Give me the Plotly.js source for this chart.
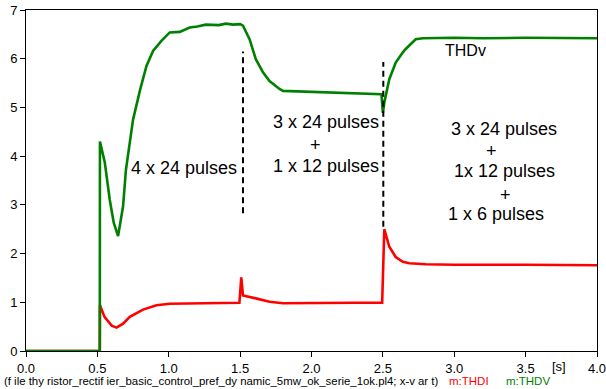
<!DOCTYPE html>
<html>
<head>
<meta charset="utf-8">
<script src="https://cdn.plot.ly/plotly-3.0.1.min.js"></script>
<style>html,body{margin:0;padding:0;background:#fff;}#chart{width:606px;height:389px;}</style>
</head>
<body>
<div id="chart"></div>
<script>
// THDV (green) series
const tV = [0, 0.517, 0.518, 0.552, 0.587, 0.615, 0.645, 0.68, 0.70, 0.75, 0.80, 0.844, 0.89, 0.95, 1.007, 1.077, 1.147, 1.20, 1.26, 1.35, 1.40, 1.45, 1.50, 1.52, 1.566, 1.61, 1.66, 1.706, 1.776, 1.80, 1.90, 2.0, 2.1, 2.24, 2.35, 2.49, 2.50, 2.51, 2.545, 2.59, 2.64, 2.66, 2.73, 2.78, 3.0, 3.2, 3.5, 3.8, 4.0];
const thdv = [0, 0, 4.30, 3.87, 3.10, 2.63, 2.36, 2.97, 3.72, 4.75, 5.37, 5.85, 6.16, 6.37, 6.54, 6.55, 6.64, 6.66, 6.70, 6.69, 6.72, 6.70, 6.71, 6.68, 6.40, 5.99, 5.72, 5.54, 5.38, 5.34, 5.33, 5.32, 5.30, 5.29, 5.28, 5.27, 4.89, 5.10, 5.58, 5.92, 6.13, 6.20, 6.40, 6.42, 6.43, 6.42, 6.43, 6.42, 6.42];

// THDI (red) series
const tI = [0, 0.517, 0.518, 0.55, 0.60, 0.634, 0.68, 0.727, 0.82, 0.914, 1.007, 1.2, 1.4, 1.495, 1.508, 1.515, 1.52, 1.61, 1.706, 1.80, 2.0, 2.3, 2.495, 2.51, 2.545, 2.59, 2.64, 2.685, 2.8, 3.0, 3.5, 4.0];
const thdi = [0, 0, 0.94, 0.70, 0.52, 0.48, 0.56, 0.70, 0.85, 0.94, 0.97, 0.98, 0.99, 0.99, 1.51, 1.25, 1.14, 1.08, 1.01, 0.98, 0.99, 0.99, 0.99, 2.50, 2.14, 1.93, 1.83, 1.80, 1.78, 1.77, 1.77, 1.76];

// dashed switching markers
const dash1X = [1.52, 1.52], dash1Y = [2.83, 6.15];
const dash2X = [2.503, 2.503], dash2Y = [2.55, 5.93];

// axis ticks
const xTicks = [0, 0.5, 1, 1.5, 2, 2.5, 3, 3.5, 4];
const xTickText = ["0.0", "0.5", "1.0", "1.5", "2.0", "2.5", "3.0", "3.5", "4.0"];
const yTicks = [0, 1, 2, 3, 4, 5, 6, 7];

// annotation texts
const labels = [
  {text: "4 x 24 pulses", x: 1.11, y: 3.76},
  {text: "3 x 24 pulses", x: 2.105, y: 4.70},
  {text: "+", x: 2.03, y: 4.22},
  {text: "1 x 12 pulses", x: 2.105, y: 3.80},
  {text: "3 x 24 pulses", x: 3.35, y: 4.56},
  {text: "+", x: 3.26, y: 4.10},
  {text: "1x 12 pulses", x: 3.35, y: 3.69},
  {text: "+", x: 3.36, y: 3.21},
  {text: "1 x 6 pulses", x: 3.29, y: 2.81}
];
const fileNote = "(f ile thy ristor_rectif ier_basic_control_pref_dy namic_5mw_ok_serie_1ok.pl4; x-v ar t)";

const FONT = "Liberation Sans, Arial, sans-serif";

const traces = [
  {x: tI, y: thdi, type: "scatter", mode: "lines", line: {color: "#ff0000", width: 2.6}, hoverinfo: "skip", cliponaxis: false},
  {x: tV, y: thdv, type: "scatter", mode: "lines", line: {color: "#008000", width: 2.6}, hoverinfo: "skip", cliponaxis: false},
  {x: dash1X, y: dash1Y, type: "scatter", mode: "lines", line: {color: "#000", width: 2, dash: "6px,4px"}, hoverinfo: "skip"},
  {x: dash2X, y: dash2Y, type: "scatter", mode: "lines", line: {color: "#000", width: 2, dash: "6px,4px"}, hoverinfo: "skip"}
];

const annotations = labels.map(l => ({
  x: l.x, y: l.y, xref: "x", yref: "y", text: l.text, showarrow: false,
  font: {family: FONT, size: 18, color: "#000"}, xanchor: "center", yanchor: "middle"
}));
annotations.push({x: 3.08, y: 6.16, xref: "x", yref: "y", text: "THDv", showarrow: false,
  font: {family: FONT, size: 16, color: "#000"}, xanchor: "center", yanchor: "middle"});
annotations.push({x: 0.933, y: -0.045, xref: "paper", yref: "paper", text: "[s]", showarrow: false,
  font: {family: FONT, size: 13, color: "#000"}, xanchor: "center", yanchor: "middle"});
annotations.push({x: -0.042, xref: "paper", y: -0.088, yref: "paper", yanchor: "middle", xanchor: "left",
  text: fileNote, showarrow: false, font: {family: FONT, size: 11.4, color: "#000"}});
annotations.push({x: 0.737, xref: "paper", y: -0.088, yref: "paper", yanchor: "middle", xanchor: "left",
  text: "m:THDI", showarrow: false, font: {family: FONT, size: 11.5, color: "#ff0000"}});
annotations.push({x: 0.838, xref: "paper", y: -0.088, yref: "paper", yanchor: "middle", xanchor: "left",
  text: "m:THDV", showarrow: false, font: {family: FONT, size: 11.5, color: "#008000"}});

const layout = {
  width: 606, height: 389,
  margin: {l: 26, r: 9, t: 10, b: 38},
  paper_bgcolor: "#fff", plot_bgcolor: "#fff",
  showlegend: false,
  font: {family: FONT, size: 13, color: "#000"},
  xaxis: {range: [0, 4], tickvals: xTicks, ticktext: xTickText, showgrid: false, zeroline: false,
    showline: true, mirror: true, linecolor: "#000", linewidth: 1, ticks: "outside", ticklen: 5, tickcolor: "#000",
    ticklabeloverflow: "allow", tickfont: {family: FONT, size: 13, color: "#000"}},
  yaxis: {range: [0, 7], tickvals: yTicks, showgrid: false, zeroline: false,
    showline: true, mirror: true, linecolor: "#000", linewidth: 1, ticks: "outside", ticklen: 5, tickcolor: "#000",
    tickfont: {family: FONT, size: 13, color: "#000"}},
  annotations: annotations
};

Plotly.newPlot("chart", traces, layout, {staticPlot: true, displayModeBar: false});
</script>
</body>
</html>
